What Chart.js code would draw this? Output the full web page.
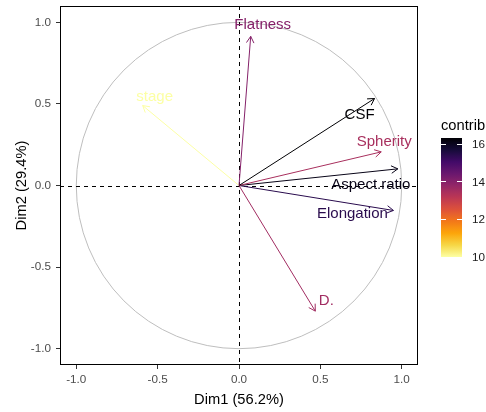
<!DOCTYPE html>
<html>
<head>
<meta charset="utf-8">
<script src="https://cdn.jsdelivr.net/npm/chart.js@4/dist/chart.umd.min.js"></script>
<style>
  html, body { margin: 0; padding: 0; background: #fff; }
  canvas { display: block; }
</style>
</head>
<body>
<canvas id="pca" width="486" height="412"></canvas>
<script>
// Variables of the PCA and their coordinates on the first two dimensions
const variables = ['Flatness', 'stage', 'CSF', 'Spherity', 'Aspect.ratio', 'Elongation', 'D.'];
const dim1 = [0.072, -0.592, 0.833, 0.874, 0.976, 0.949, 0.469];
const dim2 = [0.914, 0.490, 0.533, 0.206, 0.102, -0.153, -0.770];
// Contribution (%) of each variable to Dim1-Dim2
const contrib = [14.0, 10.0, 16.3, 13.45, 16.07, 15.4, 13.57];

// Tick labels
const axisTicks = [-1.0, -0.5, 0.0, 0.5, 1.0];
const legendTicks = [10, 12, 14, 16];
const xTitle = 'Dim1 (56.2%)';
const yTitle = 'Dim2 (29.4%)';
const legendTitle = 'contrib';

// Label placement (pixel nudges from arrow tips, avoiding overlaps)
const labelNudge = {
  'Flatness': [12, -11.5], 'stage': [12, -8.5], 'CSF': [-15, 16.5], 'Spherity': [3, -10.5],
  'Aspect.ratio': [-27, 16], 'Elongation': [-41, 3], 'D.': [11, -10.5]
};

// Reversed inferno palette: high contribution -> black, low -> pale yellow
const inferno = ['#000004', '#160B39', '#420A68', '#6A176E', '#932667', '#BC3754',
                 '#DD513A', '#F37819', '#FCA50A', '#F6D746', '#FCFFA4'];
const cMin = Math.min(...contrib), cMax = Math.max(...contrib);

function hexToRgb(h) {
  return [parseInt(h.slice(1, 3), 16), parseInt(h.slice(3, 5), 16), parseInt(h.slice(5, 7), 16)];
}
function infernoAt(s) {
  s = Math.max(0, Math.min(1, s));
  const p = s * (inferno.length - 1);
  const i = Math.min(Math.floor(p), inferno.length - 2);
  const f = p - i;
  const a = hexToRgb(inferno[i]), b = hexToRgb(inferno[i + 1]);
  const c = a.map((v, k) => Math.round(v + (b[k] - v) * f));
  return `rgb(${c[0]},${c[1]},${c[2]})`;
}
function contribColor(v) {
  return infernoAt((cMax - v) / (cMax - cMin));
}

const FONT = "'Liberation Sans', Arial, sans-serif";

const datasets = variables.map((name, i) => ({
  label: name,
  data: [{ x: 0, y: 0 }, { x: dim1[i], y: dim2[i] }],
  showLine: true,
  borderColor: contribColor(contrib[i]),
  borderWidth: 1,
  pointRadius: 0,
  pointHoverRadius: 0,
  fill: false
}));

const decor = {
  id: 'pcaDecor',
  beforeDatasetsDraw(chart) {
    const { ctx, chartArea: a, scales: { x, y } } = chart;
    ctx.save();
    ctx.beginPath();
    ctx.rect(a.left, a.top, a.right - a.left, a.bottom - a.top);
    ctx.clip();
    // correlation circle
    const cx = x.getPixelForValue(0), cy = y.getPixelForValue(0);
    const rx = x.getPixelForValue(1) - cx, ry = cy - y.getPixelForValue(1);
    ctx.beginPath();
    ctx.ellipse(cx, cy, rx, ry, 0, 0, Math.PI * 2);
    ctx.strokeStyle = '#BEBEBE';
    ctx.lineWidth = 1;
    ctx.stroke();
    // reference lines at zero
    ctx.setLineDash([4, 4]);
    ctx.strokeStyle = '#000';
    ctx.beginPath();
    ctx.moveTo(a.left, Math.round(cy) + 0.5);
    ctx.lineTo(a.right, Math.round(cy) + 0.5);
    ctx.moveTo(Math.round(cx) + 0.5, a.top);
    ctx.lineTo(Math.round(cx) + 0.5, a.bottom);
    ctx.stroke();
    ctx.restore();
  },
  afterDatasetsDraw(chart) {
    const { ctx, chartArea: a, scales: { x, y } } = chart;
    ctx.save();
    // open arrow heads
    variables.forEach((name, i) => {
      const x0 = x.getPixelForValue(0), y0 = y.getPixelForValue(0);
      const x1 = x.getPixelForValue(dim1[i]), y1 = y.getPixelForValue(dim2[i]);
      const ang = Math.atan2(y1 - y0, x1 - x0);
      const len = 7.5, spread = Math.PI / 6;
      ctx.strokeStyle = contribColor(contrib[i]);
      ctx.lineWidth = 1;
      ctx.beginPath();
      ctx.moveTo(x1 - len * Math.cos(ang - spread), y1 - len * Math.sin(ang - spread));
      ctx.lineTo(x1, y1);
      ctx.lineTo(x1 - len * Math.cos(ang + spread), y1 - len * Math.sin(ang + spread));
      ctx.stroke();
    });
    // variable names
    ctx.font = `15px ${FONT}`;
    ctx.textAlign = 'center';
    ctx.textBaseline = 'middle';
    variables.forEach((name, i) => {
      const nx = labelNudge[name] || [0, 0];
      ctx.fillStyle = contribColor(contrib[i]);
      ctx.fillText(name, x.getPixelForValue(dim1[i]) + nx[0], y.getPixelForValue(dim2[i]) + nx[1]);
    });
    // panel border
    ctx.strokeStyle = '#000';
    ctx.lineWidth = 1;
    ctx.strokeRect(a.left + 0.5, a.top + 0.5, a.right - a.left - 1, a.bottom - a.top - 1);

    // colour bar legend
    const bx = 441, bw = 21, bTop = 138, bBot = 257;
    const vy = v => bBot - (v - cMin) / (cMax - cMin) * (bBot - bTop);
    const grad = ctx.createLinearGradient(0, bBot, 0, bTop);
    for (let k = 0; k <= 40; k++) grad.addColorStop(k / 40, infernoAt(1 - k / 40));
    ctx.fillStyle = grad;
    ctx.fillRect(bx, bTop, bw, bBot - bTop);
    ctx.strokeStyle = '#fff';
    ctx.lineWidth = 1;
    legendTicks.forEach(v => {
      if (v <= cMin || v > cMax) return;
      const ty = Math.round(vy(v)) + 0.5;
      ctx.beginPath();
      ctx.moveTo(bx, ty); ctx.lineTo(bx + 5, ty);
      ctx.moveTo(bx + bw - 5, ty); ctx.lineTo(bx + bw, ty);
      ctx.stroke();
    });
    ctx.fillStyle = '#1A1A1A';
    ctx.font = `11.7px ${FONT}`;
    ctx.textAlign = 'left';
    ctx.textBaseline = 'middle';
    legendTicks.forEach(v => ctx.fillText(String(v), bx + bw + 10, vy(v) + 1));
    ctx.fillStyle = '#000';
    ctx.font = `14.7px ${FONT}`;
    ctx.textBaseline = 'alphabetic';
    ctx.fillText(legendTitle, bx, 130);
    ctx.restore();
  }
};

const tickSetter = scale => { scale.ticks = axisTicks.map(v => ({ value: v })); };
const axisCommon = {
  type: 'linear',
  min: -1.1,
  max: 1.1,
  afterBuildTicks: tickSetter,
  grid: { display: true, drawOnChartArea: false, drawTicks: true, tickLength: 4, tickColor: '#333333', tickWidth: 1 },
  border: { display: false }
};

new Chart(document.getElementById('pca'), {
  type: 'scatter',
  data: { datasets },
  options: {
    responsive: false,
    animation: false,
    events: [],
    layout: { autoPadding: false, padding: { top: 6, right: 68, bottom: 0, left: 0 } },
    plugins: { legend: { display: false }, tooltip: { enabled: false } },
    scales: {
      x: {
        ...axisCommon,
        position: 'bottom',
        afterFit: s => { s.height = 47; s.paddingLeft = 0; s.paddingRight = 0; },
        ticks: { color: '#4D4D4D', font: { family: FONT, size: 11.7 }, padding: 4,
                 callback: v => v.toFixed(1), autoSkip: false, maxRotation: 0 },
        title: { display: true, text: xTitle, color: '#000', font: { family: FONT, size: 14.7 },
                 padding: { top: 0, bottom: 3 } }
      },
      y: {
        ...axisCommon,
        position: 'left',
        afterFit: s => { s.width = 60; s.paddingTop = 0; s.paddingBottom = 0; },
        ticks: { color: '#4D4D4D', font: { family: FONT, size: 11.7 }, padding: 5,
                 callback: v => v.toFixed(1), autoSkip: false },
        title: { display: true, text: yTitle, color: '#000', font: { family: FONT, size: 14.7 },
                 padding: { top: 13, bottom: 0 } }
      }
    }
  },
  plugins: [decor]
});
</script>
</body>
</html>
